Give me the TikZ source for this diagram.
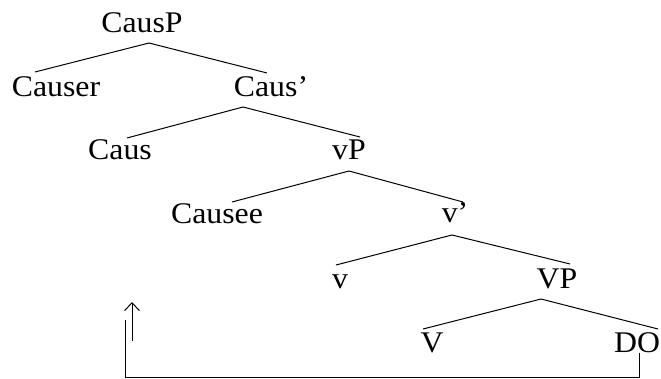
\documentclass[tikz,border=0pt]{standalone}
\usepackage{fontspec}
\setmainfont[FakeStretch=1.06]{Liberation Serif}
\usetikzlibrary{positioning, arrows.meta}

\begin{document}
\begin{tikzpicture}[node distance=64pt, on grid, line width=1pt]
              \tikzset{cat/.style={font=\fontsize{30}{36}\selectfont, inner sep=0pt, text height=20pt, text depth=7pt}}
              \useasboundingbox (0,0) rectangle (661pt,-379pt);

              % Nodos del árbol
              \node[cat, anchor=base] (causp) at (142pt,-33pt) {CausP};
              \node[cat] (causer) [below left=64pt and 86pt of causp] {Causer};
              \node[cat] (causbar) [below right=64pt and 129pt of causp] {Caus’};
              \node[cat] (caus) [below left=63pt and 151pt of causbar] {Caus};
              \node[cat] (vp) [below right=63pt and 78pt of causbar] {vP};
              \node[cat] (causee) [below left=64pt and 132pt of vp] {Causee};
              \node[cat] (vbar) [below right=63pt and 106pt of vp] {v’};
              \node[cat] (v) [below left=65pt and 115pt of vbar] {v};
              \node[cat] (vpbig) [below right=65pt and 102pt of vbar] {VP};
              \node[cat] (verb) [below left=64pt and 125pt of vpbig] {V};
              \node[cat] (do) [below right=64pt and 80pt of vpbig] {DO};

              % Ramas
              \path
                  ([xshift=7pt, yshift=-10pt]causp.base) edge ([xshift=-21pt, yshift=25pt]causer.base)
                  ([xshift=7pt, yshift=-10pt]causp.base) edge ([xshift=-4pt, yshift=24pt]causbar.base)
                  ([xshift=-28pt, yshift=-10pt]causbar.base) edge ([xshift=7pt, yshift=22pt]caus.base)
                  ([xshift=-28pt, yshift=-10pt]causbar.base) edge ([xshift=11pt, yshift=23pt]vp.base)
                  ([yshift=-11pt]vp.base) edge ([xshift=15pt, yshift=22pt]causee.base)
                  ([yshift=-11pt]vp.base) edge ([xshift=8pt, yshift=21pt]vbar.base)
                  ([xshift=-3pt, yshift=-12pt]vbar.base) edge ([xshift=-4pt, yshift=23pt]v.base)
                  ([xshift=-3pt, yshift=-12pt]vbar.base) edge ([xshift=13pt, yshift=24pt]vpbig.base)
                  ([xshift=-16pt, yshift=-11pt]vpbig.base) edge ([xshift=-9pt, yshift=23pt]verb.base)
                  ([xshift=-16pt, yshift=-11pt]vpbig.base) edge ([xshift=21pt, yshift=23pt]do.base);

              % Movimiento
              \coordinate (huella) at (125pt,-320pt);
              \draw ([xshift=2pt, yshift=-1pt]do.base) -- ++(0,-24pt) -| (huella);

              % Flecha
              \coordinate (flecha) at (132pt,-341pt);
              \draw[-{Straight Barb[length=8pt, width=15pt, line width=1pt]}, line width=1pt] (flecha) -- ++(0,39pt);

          \end{tikzpicture}
\end{document}
